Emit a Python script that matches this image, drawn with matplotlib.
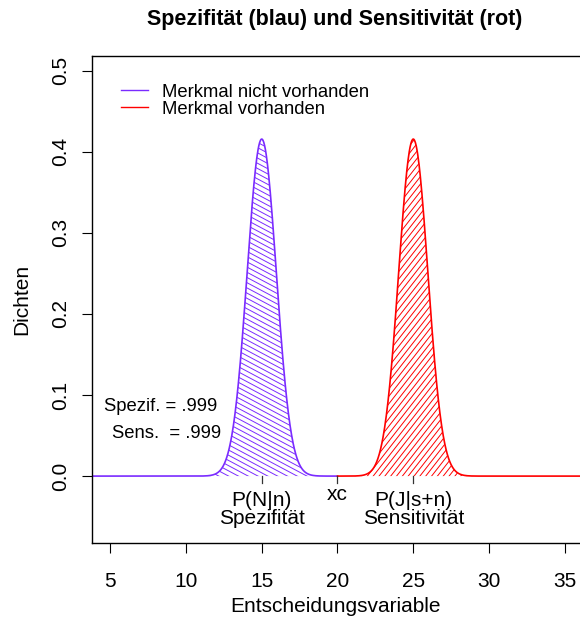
import numpy as np
import matplotlib
matplotlib.use("Agg")
import matplotlib.pyplot as plt
from matplotlib.collections import LineCollection
from matplotlib.patches import Polygon
from matplotlib.transforms import Affine2D

plt.rcParams["font.family"] = ["Liberation Sans", "DejaVu Sans"]

# chart values
means = [15.0, 25.0]          # centre of "nicht vorhanden" / "vorhanden"
sd = 0.96                     # gives peak density of about 0.415
xc = 20.0                     # decision criterion
x_ticks = [5, 10, 15, 20, 25, 30, 35]
y_ticks = [0.0, 0.1, 0.2, 0.3, 0.4, 0.5]
legend_labels = ["Merkmal nicht vorhanden", "Merkmal vorhanden"]
mark_labels = ["P(N|n)\nSpezifität", "xc", "P(J|s+n)\nSensitivität"]
spez_text = "Spezif. = .999"
sens_text = "Sens.  = .999"

blue = "#7A2BFF"
red = "#FF0000"

W, H = 580, 622
fig = plt.figure(figsize=(W / 100, H / 100), dpi=100)
ax_l, ax_r, ax_t, ax_b = 92, 583, 56, 543
ax = fig.add_axes([ax_l / W, 1 - ax_b / H, (ax_r - ax_l) / W, (ax_b - ax_t) / H])
ax.set_xlim(3.8, 36.2)
ax.set_ylim(-0.0825, 0.518)


def dens(x, m):
    return np.exp(-0.5 * ((x - m) / sd) ** 2) / (sd * np.sqrt(2 * np.pi))


def hatch(poly, color, angle, spacing):
    # hatch lines drawn in pixel space, clipped to the polygon
    aw, ah = ax_r - ax_l, ax_b - ax_t
    tr = Affine2D().scale(1 / aw, 1 / ah) + ax.transAxes
    th = np.deg2rad(angle)
    d = np.array([np.cos(th), np.sin(th)])
    n = np.array([-np.sin(th), np.cos(th)])
    L = 2 * (aw + ah)
    segs = []
    for c in np.arange(-L, L, spacing):
        segs.append([c * n - L * d, c * n + L * d])
    lc = LineCollection(segs, colors=color, linewidths=0.7, transform=tr)
    ax.add_collection(lc)
    lc.set_clip_path(poly)


x_left = np.linspace(3.8, xc, 600)
x_right = np.linspace(xc, 36.2, 600)
y_left = dens(x_left, means[0])
y_right = dens(x_right, means[1])

for xs, ys, col, ang in [(x_left, y_left, blue, -28), (x_right, y_right, red, 52)]:
    pts = np.column_stack([np.r_[xs, xs[-1], xs[0]], np.r_[ys, 0, 0]])
    poly = Polygon(pts, closed=True, facecolor="none", edgecolor="none")
    ax.add_patch(poly)
    hatch(poly, col, ang, 4.6)
    ax.plot(xs, ys, color=col, lw=1.2)

# legend
h1, = ax.plot([], [], color=blue, lw=1.0)
h2, = ax.plot([], [], color=red, lw=1.0)
ax.legend([h1, h2], legend_labels, loc="upper left", bbox_to_anchor=(0.06, 0.943),
          frameon=False, fontsize=13.3, handlelength=1.45, handletextpad=0.75,
          labelspacing=0.0, borderaxespad=0, borderpad=0)

# marks on the zero line
mark_x = [means[0], xc, means[1]]
mark_y = [-0.018, -0.011, -0.018]
for mx in mark_x:
    ax.plot([mx, mx], [0, -0.008], color="#333333", lw=0.9)
for mx, my, lab in zip(mark_x, mark_y, mark_labels):
    ax.text(mx, my, lab, ha="center", va="top", fontsize=15, linespacing=0.93)

ax.text(8.36, 0.086, spez_text, ha="center", va="center", fontsize=13.3)
ax.text(8.7, 0.053, sens_text, ha="center", va="center", fontsize=13.3)

ax.set_xticks(x_ticks)
ax.set_yticks(y_ticks)
ax.set_yticklabels([f"{v:.1f}" for v in y_ticks], rotation=90, va="center")
ax.tick_params(axis="x", direction="out", length=7, width=0.8, labelsize=15, pad=14)
ax.tick_params(axis="y", direction="out", length=7, width=0.8, labelsize=15, pad=9)
for s in ax.spines.values():
    s.set_linewidth(1.0)

ax.set_xlabel("Entscheidungsvariable", fontsize=15)
ax.set_ylabel("Dichten", fontsize=15)
ax.xaxis.label.set_va("center")
ax.yaxis.label.set_va("center")
ax.xaxis.set_label_coords((335 - ax_l) / (ax_r - ax_l), -(607 - ax_b) / (ax_b - ax_t))
ax.yaxis.set_label_coords(-(ax_l - 22) / (ax_r - ax_l), 0.5)
fig.text((ax_l + 578) / 2 / W, 1 - 20 / H, "Spezifität (blau) und Sensitivität (rot)",
         ha="center", va="center", fontsize=15.5, fontweight="bold")

fig.savefig("out.png", dpi=100)
